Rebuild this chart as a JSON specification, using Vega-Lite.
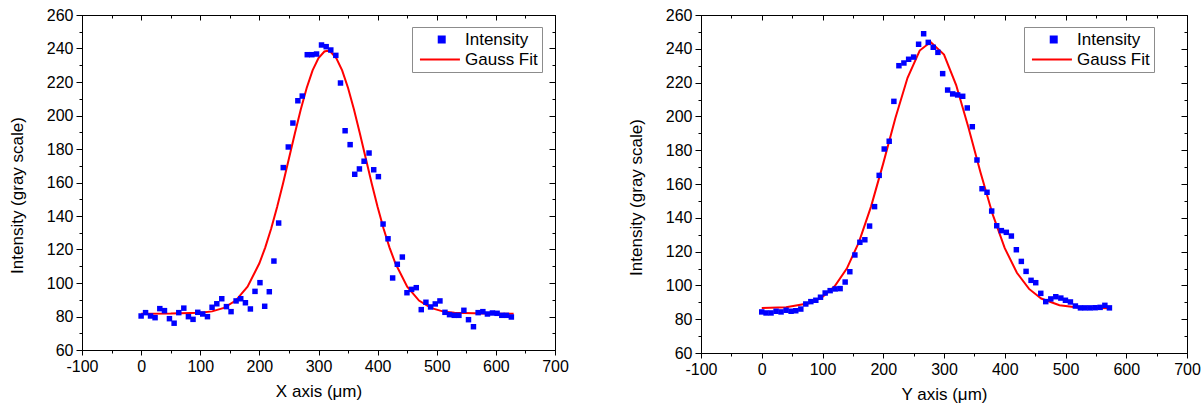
{
  "$schema": "https://vega.github.io/schema/vega-lite/v6.json",
  "background": "white",
  "padding": {"left": 7, "top": 6, "right": 0, "bottom": 5},
  "spacing": 57,
  "config": {
    "font": "Liberation Sans",
    "view": {"stroke": "black", "strokeWidth": 1},
    "axis": {
      "grid": false,
      "labelFlush": false,
      "domainColor": "black",
      "tickColor": "black",
      "labelColor": "black",
      "titleColor": "black",
      "labelFont": "Liberation Sans",
      "titleFont": "Liberation Sans",
      "labelFontSize": 16,
      "titleFontSize": 17,
      "titleFontWeight": "normal",
      "labelPadding": 3
    },
    "legend": {
      "labelFont": "Liberation Sans",
      "labelFontSize": 17,
      "labelColor": "black",
      "strokeColor": "#8c8c8c",
      "fillColor": "white",
      "padding": 4,
      "rowPadding": 2,
      "symbolSize": 169,
      "labelOffset": 32
    }
  },
  "datasets": {
    "xdata": [
      {"x": 0, "y": 80.3}, {"x": 7.5, "y": 82.3}, {"x": 15.9, "y": 80.3}, {"x": 23.6, "y": 79.3}, {"x": 31.6, "y": 84.7},
      {"x": 39.5, "y": 83.5}, {"x": 47.9, "y": 78.7}, {"x": 55.8, "y": 76}, {"x": 63.7, "y": 82.3}, {"x": 72.2, "y": 85},
      {"x": 80, "y": 79.9}, {"x": 87.8, "y": 78.3}, {"x": 95.8, "y": 82.5}, {"x": 104.2, "y": 81.5}, {"x": 112.2, "y": 79.9},
      {"x": 120, "y": 85.5}, {"x": 128, "y": 87.6}, {"x": 136.4, "y": 90.6}, {"x": 144.3, "y": 85.9}, {"x": 152.1, "y": 82.9},
      {"x": 160.6, "y": 89.3}, {"x": 168.5, "y": 90.6}, {"x": 176.4, "y": 88.2}, {"x": 184.8, "y": 84.5}, {"x": 192.6, "y": 95},
      {"x": 201, "y": 100.2}, {"x": 209, "y": 86.1}, {"x": 216.8, "y": 94.8}, {"x": 224.6, "y": 113.1}, {"x": 232.6, "y": 135.8},
      {"x": 240.4, "y": 168.9}, {"x": 248.9, "y": 181.2}, {"x": 256.7, "y": 195.5}, {"x": 265.1, "y": 208.8}, {"x": 272.5, "y": 211.6},
      {"x": 281, "y": 236.3}, {"x": 288.8, "y": 236.3}, {"x": 296.7, "y": 236.7}, {"x": 305.1, "y": 242.1}, {"x": 313, "y": 241.1},
      {"x": 320.8, "y": 239.1}, {"x": 329.3, "y": 235.9}, {"x": 337.2, "y": 219.4}, {"x": 345, "y": 190.9}, {"x": 353.5, "y": 182.6},
      {"x": 361.3, "y": 164.9}, {"x": 369.2, "y": 168.1}, {"x": 377.1, "y": 172.7}, {"x": 385.5, "y": 177.6}, {"x": 393.4, "y": 167.6},
      {"x": 401.3, "y": 163.5}, {"x": 409.2, "y": 135.2}, {"x": 417.6, "y": 126.4}, {"x": 425.4, "y": 103}, {"x": 433.3, "y": 111.2},
      {"x": 441.8, "y": 115.5}, {"x": 449.6, "y": 94.2}, {"x": 457.5, "y": 96.2}, {"x": 465.4, "y": 97.2}, {"x": 473.8, "y": 84.1},
      {"x": 481.7, "y": 88.5}, {"x": 489.6, "y": 85.7}, {"x": 497.5, "y": 87.5}, {"x": 505.4, "y": 89.3}, {"x": 513.9, "y": 82.5},
      {"x": 521.6, "y": 81.1}, {"x": 529.6, "y": 80.7}, {"x": 537.5, "y": 80.7}, {"x": 545.9, "y": 83.7}, {"x": 553.7, "y": 78.1},
      {"x": 562.1, "y": 73.9}, {"x": 570, "y": 82.3}, {"x": 578, "y": 82.9}, {"x": 585.7, "y": 81.5}, {"x": 594.2, "y": 82.1},
      {"x": 602.1, "y": 81.9}, {"x": 610, "y": 80.7}, {"x": 617.8, "y": 80.7}, {"x": 626.2, "y": 79.7}
    ],
    "xfit": [
      {"x": 0, "y": 81.7}, {"x": 50, "y": 81.72}, {"x": 100, "y": 82.19}, {"x": 120, "y": 83.05}, {"x": 140, "y": 85.12},
      {"x": 160, "y": 89.49}, {"x": 180, "y": 97.79}, {"x": 200, "y": 111.77}, {"x": 210, "y": 121.28}, {"x": 220, "y": 132.51},
      {"x": 230, "y": 145.33}, {"x": 240, "y": 159.42}, {"x": 250, "y": 174.28}, {"x": 260, "y": 189.28}, {"x": 270, "y": 203.59},
      {"x": 280, "y": 216.41}, {"x": 290, "y": 226.91}, {"x": 300, "y": 234.35}, {"x": 310, "y": 238.21}, {"x": 315, "y": 238.7},
      {"x": 320, "y": 238.21}, {"x": 330, "y": 234.35}, {"x": 340, "y": 226.91}, {"x": 350, "y": 216.41}, {"x": 360, "y": 203.59},
      {"x": 370, "y": 189.28}, {"x": 380, "y": 174.28}, {"x": 390, "y": 159.42}, {"x": 400, "y": 145.33}, {"x": 410, "y": 132.51},
      {"x": 420, "y": 121.28}, {"x": 430, "y": 111.77}, {"x": 450, "y": 97.79}, {"x": 470, "y": 89.49}, {"x": 490, "y": 85.12},
      {"x": 510, "y": 83.05}, {"x": 530, "y": 82.19}, {"x": 580, "y": 81.72}, {"x": 630, "y": 81.7}
    ],
    "ydata": [
      {"x": 0, "y": 84.3}, {"x": 7.1, "y": 83.7}, {"x": 15.3, "y": 83.7}, {"x": 23.6, "y": 84.7}, {"x": 31.8, "y": 84.3},
      {"x": 40.1, "y": 85.3}, {"x": 48.3, "y": 84.7}, {"x": 56, "y": 85}, {"x": 64.3, "y": 86}, {"x": 72.5, "y": 89},
      {"x": 80.8, "y": 90.4}, {"x": 89, "y": 91.2}, {"x": 96.7, "y": 93}, {"x": 104.4, "y": 95.5}, {"x": 112.6, "y": 96.9},
      {"x": 120.8, "y": 97.9}, {"x": 129, "y": 98.1}, {"x": 137.3, "y": 102}, {"x": 145, "y": 108.1}, {"x": 153.3, "y": 118},
      {"x": 161.5, "y": 125.5}, {"x": 169.7, "y": 127}, {"x": 177.5, "y": 135.1}, {"x": 185.7, "y": 146.6}, {"x": 193.3, "y": 165.1},
      {"x": 201.6, "y": 180.7}, {"x": 209.8, "y": 185.3}, {"x": 217.5, "y": 208.9}, {"x": 225.8, "y": 230}, {"x": 234, "y": 231.6},
      {"x": 241.8, "y": 233.8}, {"x": 250, "y": 235.1}, {"x": 258.2, "y": 242.7}, {"x": 266.5, "y": 248.9}, {"x": 274.1, "y": 243.8},
      {"x": 282.3, "y": 240.9}, {"x": 290, "y": 237.9}, {"x": 297.8, "y": 225.3}, {"x": 306, "y": 215.6}, {"x": 314.3, "y": 213.3},
      {"x": 322.5, "y": 212.7}, {"x": 330.8, "y": 211.9}, {"x": 338.3, "y": 205}, {"x": 346.6, "y": 193.9}, {"x": 354.3, "y": 174.2},
      {"x": 362.6, "y": 157.2}, {"x": 370.8, "y": 155.1}, {"x": 378.5, "y": 144}, {"x": 386.8, "y": 135.3}, {"x": 394.4, "y": 132.4},
      {"x": 402.6, "y": 131.4}, {"x": 410.9, "y": 129.2}, {"x": 419.1, "y": 121.1}, {"x": 427.3, "y": 114.2}, {"x": 435.1, "y": 108.3},
      {"x": 443.3, "y": 103}, {"x": 451, "y": 101.6}, {"x": 459.3, "y": 95.3}, {"x": 467.5, "y": 90.4}, {"x": 475.8, "y": 92},
      {"x": 484, "y": 93.3}, {"x": 492.3, "y": 92.5}, {"x": 499.9, "y": 91.2}, {"x": 508.1, "y": 90.2}, {"x": 516.3, "y": 87.8},
      {"x": 524.6, "y": 86.7}, {"x": 532.3, "y": 86.7}, {"x": 540.5, "y": 86.7}, {"x": 548.8, "y": 86.8}, {"x": 557, "y": 87},
      {"x": 564.8, "y": 88.2}, {"x": 572.3, "y": 86.7}
    ],
    "yfit": [
      {"x": 0, "y": 86.57}, {"x": 40, "y": 87.05}, {"x": 80, "y": 89.62}, {"x": 100, "y": 93.13}, {"x": 120, "y": 99.48},
      {"x": 140, "y": 109.95}, {"x": 160, "y": 125.65}, {"x": 180, "y": 146.78}, {"x": 200, "y": 172.21}, {"x": 220, "y": 199.02},
      {"x": 240, "y": 222.82}, {"x": 260, "y": 238.98}, {"x": 278, "y": 244.0}, {"x": 300, "y": 236.57}, {"x": 320, "y": 218.53},
      {"x": 340, "y": 193.74}, {"x": 360, "y": 166.9}, {"x": 380, "y": 142.14}, {"x": 400, "y": 122.05}, {"x": 420, "y": 107.46},
      {"x": 440, "y": 97.92}, {"x": 460, "y": 92.24}, {"x": 490, "y": 88.26}, {"x": 520, "y": 86.95}, {"x": 572, "y": 86.53}
    ]
  },
  "resolve": {"scale": {"x": "independent", "y": "independent", "color": "independent"}},
  "hconcat": [
    {
      "width": 473,
      "height": 335,
      "resolve": {"axis": {"x": "independent", "y": "independent"}},
      "layer": [
        {
          "data": {"name": "xdata"},
          "mark": {"type": "point", "opacity": 0},
          "encoding": {
            "x": {"field": "x", "type": "quantitative", "scale": {"domain": [-100, 700], "nice": false},
              "axis": {"orient": "bottom", "title": null, "labels": false, "domain": false, "tickSize": 3,
                "values": [-50, 50, 150, 250, 350, 450, 550, 650]}},
            "y": {"field": "y", "type": "quantitative", "scale": {"domain": [60, 260], "nice": false, "zero": false},
              "axis": {"orient": "left", "title": null, "labels": false, "domain": false, "tickSize": 3,
                "values": [70, 90, 110, 130, 150, 170, 190, 210, 230, 250]}}
          }
        },
        {
          "data": {"name": "xdata"},
          "mark": {"type": "point", "opacity": 0},
          "encoding": {
            "x": {"field": "x", "type": "quantitative",
              "axis": {"orient": "top", "title": null, "labels": false, "domain": false, "tickSize": -3,
                "values": [-50, 50, 150, 250, 350, 450, 550, 650]}},
            "y": {"field": "y", "type": "quantitative",
              "axis": {"orient": "right", "title": null, "labels": false, "domain": false, "tickSize": -3,
                "values": [70, 90, 110, 130, 150, 170, 190, 210, 230, 250]}}
          }
        },
        {
          "data": {"name": "xfit"},
          "transform": [{"calculate": "'Gauss Fit'", "as": "series"}],
          "mark": {"type": "line", "strokeWidth": 2},
          "encoding": {
            "x": {"field": "x", "type": "quantitative",
              "axis": {"orient": "top", "title": null, "labels": false, "tickSize": -5,
                "values": [-100, 0, 100, 200, 300, 400, 500, 600, 700]}},
            "y": {"field": "y", "type": "quantitative",
              "axis": {"orient": "right", "title": null, "labels": false, "tickSize": -6,
                "values": [60, 80, 100, 120, 140, 160, 180, 200, 220, 240, 260]}},
            "color": {"field": "series", "type": "nominal", "scale": {"domain": ["Intensity", "Gauss Fit"], "range": ["#0000ff", "#ff0000"]},
              "legend": {"title": null, "orient": "none", "legendX": 330, "legendY": 12,
                "encode": {"symbols": {"update": {
                  "shape": {"signal": "datum.value === 'Intensity' ? 'M2.19,-0.46H3.11V0.46H2.19Z' : 'M-0.7,0H5.45'"},
                  "fill": {"signal": "datum.value === 'Intensity' ? '#0000ff' : 'transparent'"},
                  "stroke": {"signal": "datum.value === 'Intensity' ? 'transparent' : '#ff0000'"},
                  "strokeWidth": {"value": 2},
                  "opacity": {"value": 1}}}}}}
          }
        },
        {
          "data": {"name": "xdata"},
          "transform": [{"calculate": "'Intensity'", "as": "series"}],
          "mark": {"type": "point", "shape": "square", "filled": true, "size": 30, "opacity": 1},
          "encoding": {
            "x": {"field": "x", "type": "quantitative",
              "axis": {"orient": "bottom", "title": "X axis (μm)", "values": [-100, 0, 100, 200, 300, 400, 500, 600, 700],
                "labelExpr": "'' + datum.value", "tickSize": 5, "titlePadding": 9}},
            "y": {"field": "y", "type": "quantitative",
              "axis": {"orient": "left", "title": "Intensity (gray scale)", "values": [60, 80, 100, 120, 140, 160, 180, 200, 220, 240, 260],
                "labelExpr": "'' + datum.value", "tickSize": 6, "titlePadding": 20, "titleY": 180}},
            "color": {"field": "series", "type": "nominal",
              "legend": {"title": null, "orient": "none", "legendX": 330, "legendY": 12,
                "encode": {"symbols": {"update": {
                  "shape": {"signal": "datum.value === 'Intensity' ? 'M2.19,-0.46H3.11V0.46H2.19Z' : 'M-0.7,0H5.45'"},
                  "fill": {"signal": "datum.value === 'Intensity' ? '#0000ff' : 'transparent'"},
                  "stroke": {"signal": "datum.value === 'Intensity' ? 'transparent' : '#ff0000'"},
                  "strokeWidth": {"value": 2},
                  "opacity": {"value": 1}}}}}}
          }
        }
      ]
    },
    {
      "width": 486,
      "height": 338,
      "resolve": {"axis": {"x": "independent", "y": "independent"}},
      "layer": [
        {
          "data": {"name": "ydata"},
          "mark": {"type": "point", "opacity": 0},
          "encoding": {
            "x": {"field": "x", "type": "quantitative", "scale": {"domain": [-100, 700], "nice": false},
              "axis": {"orient": "bottom", "title": null, "labels": false, "domain": false, "tickSize": 3,
                "values": [-50, 50, 150, 250, 350, 450, 550, 650]}},
            "y": {"field": "y", "type": "quantitative", "scale": {"domain": [60, 260], "nice": false, "zero": false},
              "axis": {"orient": "left", "title": null, "labels": false, "domain": false, "tickSize": 3,
                "values": [70, 90, 110, 130, 150, 170, 190, 210, 230, 250]}}
          }
        },
        {
          "data": {"name": "ydata"},
          "mark": {"type": "point", "opacity": 0},
          "encoding": {
            "x": {"field": "x", "type": "quantitative",
              "axis": {"orient": "top", "title": null, "labels": false, "domain": false, "tickSize": -3,
                "values": [-50, 50, 150, 250, 350, 450, 550, 650]}},
            "y": {"field": "y", "type": "quantitative",
              "axis": {"orient": "right", "title": null, "labels": false, "domain": false, "tickSize": -3,
                "values": [70, 90, 110, 130, 150, 170, 190, 210, 230, 250]}}
          }
        },
        {
          "data": {"name": "yfit"},
          "transform": [{"calculate": "'Gauss Fit'", "as": "series"}],
          "mark": {"type": "line", "strokeWidth": 2},
          "encoding": {
            "x": {"field": "x", "type": "quantitative",
              "axis": {"orient": "top", "title": null, "labels": false, "tickSize": -5,
                "values": [-100, 0, 100, 200, 300, 400, 500, 600, 700]}},
            "y": {"field": "y", "type": "quantitative",
              "axis": {"orient": "right", "title": null, "labels": false, "tickSize": -6,
                "values": [60, 80, 100, 120, 140, 160, 180, 200, 220, 240, 260]}},
            "color": {"field": "series", "type": "nominal", "scale": {"domain": ["Intensity", "Gauss Fit"], "range": ["#0000ff", "#ff0000"]},
              "legend": {"title": null, "orient": "none", "legendX": 323, "legendY": 12,
                "encode": {"symbols": {"update": {
                  "shape": {"signal": "datum.value === 'Intensity' ? 'M2.19,-0.46H3.11V0.46H2.19Z' : 'M-0.7,0H5.45'"},
                  "fill": {"signal": "datum.value === 'Intensity' ? '#0000ff' : 'transparent'"},
                  "stroke": {"signal": "datum.value === 'Intensity' ? 'transparent' : '#ff0000'"},
                  "strokeWidth": {"value": 2},
                  "opacity": {"value": 1}}}}}}
          }
        },
        {
          "data": {"name": "ydata"},
          "transform": [{"calculate": "'Intensity'", "as": "series"}],
          "mark": {"type": "point", "shape": "square", "filled": true, "size": 30, "opacity": 1},
          "encoding": {
            "x": {"field": "x", "type": "quantitative",
              "axis": {"orient": "bottom", "title": "Y axis (μm)", "values": [-100, 0, 100, 200, 300, 400, 500, 600, 700],
                "labelExpr": "'' + datum.value", "tickSize": 5, "titlePadding": 9}},
            "y": {"field": "y", "type": "quantitative",
              "axis": {"orient": "left", "title": "Intensity (gray scale)", "values": [60, 80, 100, 120, 140, 160, 180, 200, 220, 240, 260],
                "labelExpr": "'' + datum.value", "tickSize": 6, "titlePadding": 20, "titleY": 182}},
            "color": {"field": "series", "type": "nominal",
              "legend": {"title": null, "orient": "none", "legendX": 323, "legendY": 12,
                "encode": {"symbols": {"update": {
                  "shape": {"signal": "datum.value === 'Intensity' ? 'M2.19,-0.46H3.11V0.46H2.19Z' : 'M-0.7,0H5.45'"},
                  "fill": {"signal": "datum.value === 'Intensity' ? '#0000ff' : 'transparent'"},
                  "stroke": {"signal": "datum.value === 'Intensity' ? 'transparent' : '#ff0000'"},
                  "strokeWidth": {"value": 2},
                  "opacity": {"value": 1}}}}}}
          }
        }
      ]
    }
  ]
}
